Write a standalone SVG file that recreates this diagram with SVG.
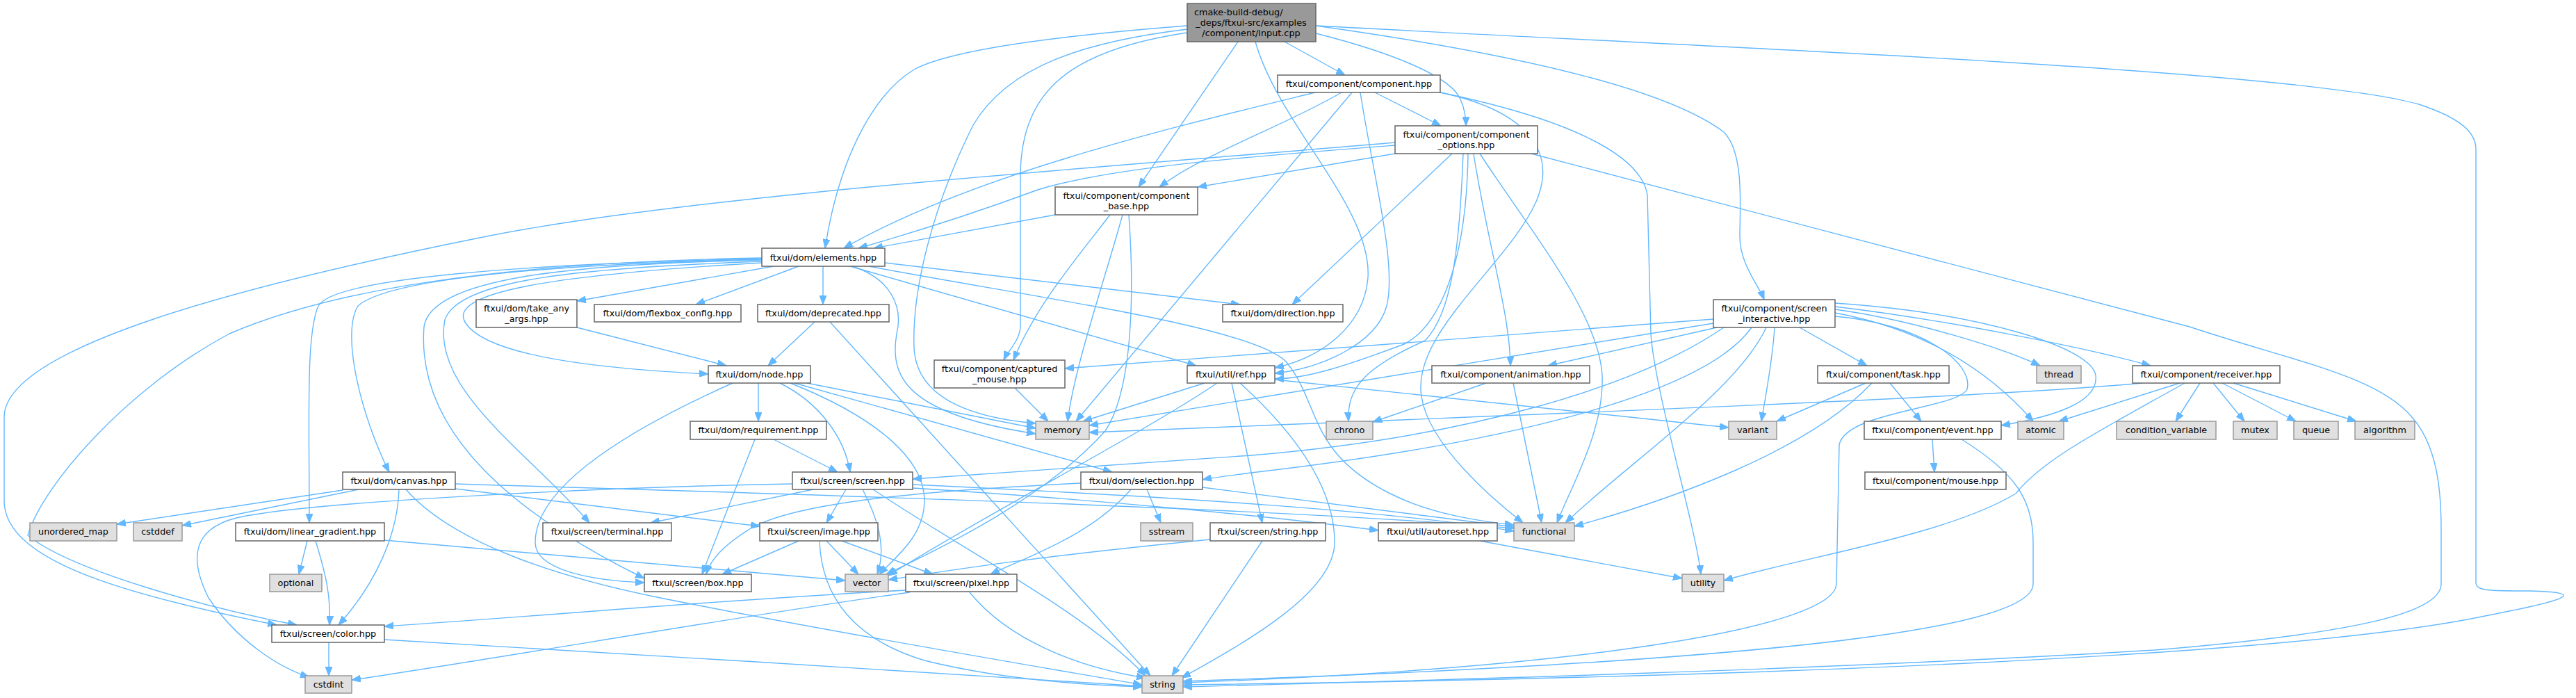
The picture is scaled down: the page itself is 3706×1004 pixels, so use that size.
<svg xmlns="http://www.w3.org/2000/svg" width="3706" height="1004" viewBox="0 0 3706 1004">
<defs>
<marker id="ah" viewBox="0 0 13 10" refX="13" refY="5" markerWidth="13" markerHeight="10" markerUnits="userSpaceOnUse" orient="auto">
<path d="M0,0 L13,5 L0,10 z" fill="#63b8ff" stroke="#63b8ff" stroke-width="1"/>
</marker>
<style>
.n rect{fill:#ffffff;stroke:#666666;stroke-width:1.5}
.g rect{fill:#e0e0e0;stroke:#999999;stroke-width:1.5}
.r rect{fill:#999999;stroke:#666666;stroke-width:1.5}
text{font-family:"DejaVu Sans","Liberation Sans",sans-serif;font-size:12.8px;fill:#000000;text-anchor:middle}
.e path{fill:none;stroke:#63b8ff;stroke-width:1.4;marker-end:url(#ah)}
</style>
</defs>
<rect x="0" y="0" width="3706" height="1004" fill="#ffffff"/>
<g id="edges" class="e">
<path d="M1708,37 C1540,50 1370,70 1315,100 C1250,140 1205,240 1187,357"/>
<path d="M1781,60 L1638,269"/>
<path d="M1708,47 C1540,72 1470,130 1468,250 L1468,470 C1467,490 1450,505 1444,518"/>
<path d="M1708,42 C1560,60 1450,95 1400,180 C1340,300 1312,420 1315,500 C1318,570 1390,600 1490,609"/>
<path d="M1848,60 L1935,108"/>
<path d="M1893,48 C2000,75 2090,110 2102,145 C2108,160 2109,170 2109,181"/>
<path d="M1893,37 C2200,80 2400,130 2480,190 C2510,220 2503,300 2503,340 C2503,380 2530,410 2538,431"/>
<path d="M1806,60 C1840,180 1975,300 1968,400 C1962,470 1900,515 1834,529"/>
<path d="M1893,37 C2500,70 3300,100 3480,150 C3540,170 3562,190 3562,215 L3562,838 C3562,850 3580,850 3640,850 C3720,852 3700,862 3580,885 C3300,945 2500,975 1702,985"/>
<path d="M1978,133 L2073,181"/>
<path d="M1930,133 C1850,180 1730,222 1668,269"/>
<path d="M1892,133 C1700,180 1400,250 1214,357"/>
<path d="M1945,133 L1548,606"/>
<path d="M1957,133 C1975,250 2010,380 1995,440 C1980,495 1900,530 1834,537"/>
<path d="M2072,133 C2200,160 2240,220 2210,290 C2170,380 2030,480 2045,570 C2055,640 2150,720 2191,752"/>
<path d="M2072,133 C2250,170 2360,220 2370,280 L2375,480 C2380,560 2440,760 2447,826"/>
<path d="M2007,209 C1800,225 1600,240 1493,273 C1420,300 1330,330 1235,357"/>
<path d="M2007,205 C1600,240 1000,280 700,340 C350,410 6,500 6,600 L6,720 C6,800 150,850 398,899"/>
<path d="M2007,221 L1723,269"/>
<path d="M2089,221 L1859,438"/>
<path d="M2105,221 C2100,350 2090,450 2050,490 C1960,530 1938,560 1940,606"/>
<path d="M2112,221 C2110,380 2070,470 2020,495 C1940,525 1880,545 1834,545"/>
<path d="M2120,221 C2140,350 2172,450 2173,526"/>
<path d="M2129,221 C2200,330 2300,450 2305,540 C2308,620 2260,700 2240,752"/>
<path d="M2203,221 L3150,470 C3300,520 3420,540 3470,600 C3505,640 3512,700 3512,760 L3512,840 C3512,880 3400,910 3100,935 C2600,965 2000,980 1702,988"/>
<path d="M1518,309 L1257,357"/>
<path d="M1597,309 C1550,370 1490,440 1458,518"/>
<path d="M1615,309 C1590,400 1545,530 1536,606"/>
<path d="M1624,309 C1632,420 1630,560 1590,620 C1500,720 1350,790 1275,826"/>
<path d="M2465,459 C2200,480 1800,510 1532,530"/>
<path d="M2465,465 L1567,612"/>
<path d="M2470,471 L2227,526"/>
<path d="M2480,471 C2350,560 2100,630 1800,655 C1600,670 1400,683 1313,689"/>
<path d="M2520,471 C2450,570 2150,640 1800,680 C1770,684 1745,687 1730,690"/>
<path d="M2541,471 C2500,560 2350,660 2252,752"/>
<path d="M2553,471 C2550,520 2540,570 2534,606"/>
<path d="M2589,471 L2686,526"/>
<path d="M2640,445 C2750,460 2880,500 2935,526"/>
<path d="M2640,441 C2800,460 3000,500 3094,526"/>
<path d="M2640,450 C2750,470 2850,520 2925,606"/>
<path d="M2640,436 C2850,450 3010,500 3015,540 C3020,580 2950,600 2879,612"/>
<path d="M2640,455 C2760,465 2840,520 2830,560 C2815,588 2655,592 2646,640 L2642,840 C2640,900 2300,960 1702,982"/>
<path d="M1113,383 L830,433"/>
<path d="M1149,383 L1001,438"/>
<path d="M1184,383 L1184,438"/>
<path d="M1273,378 L1784,438"/>
<path d="M1223,383 L1721,526"/>
<path d="M1226,383 C1280,400 1300,440 1290,480 C1280,540 1300,595 1490,624"/>
<path d="M1250,383 C1500,430 1800,470 1850,520 C1900,580 1880,650 2000,710 C2060,740 2130,750 2178,755"/>
<path d="M1096,378 C800,395 640,420 670,465 C700,510 850,530 1019,538"/>
<path d="M1096,376 C850,385 660,400 640,460 C620,560 760,650 848,752"/>
<path d="M1096,374 C820,380 620,400 610,470 C600,600 700,720 927,832"/>
<path d="M1096,373 C800,380 560,400 515,440 C490,480 520,600 560,679"/>
<path d="M1096,372 C750,380 480,400 458,440 C440,480 445,600 445,752"/>
<path d="M1096,371 C700,378 470,420 330,480 C180,560 60,700 40,770 C100,820 300,875 427,899"/>
<path d="M830,471 L1045,526"/>
<path d="M1172,463 L1105,526"/>
<path d="M1194,463 L1655,972"/>
<path d="M1091,551 L1091,606"/>
<path d="M1122,551 C1180,580 1215,630 1223,679"/>
<path d="M1137,551 C1260,600 1330,660 1330,720 C1330,770 1290,800 1265,826"/>
<path d="M1143,551 L1600,679"/>
<path d="M1161,551 L1490,616"/>
<path d="M1054,551 C900,620 770,700 770,780 C770,820 850,835 927,838"/>
<path d="M1086,632 L1010,826"/>
<path d="M1113,632 L1205,679"/>
<path d="M1460,558 L1508,606"/>
<path d="M1733,551 L1558,606"/>
<path d="M1751,551 C1650,620 1400,750 1278,828"/>
<path d="M1772,551 L1816,752"/>
<path d="M1784,551 C1860,620 1920,700 1920,780 C1920,850 1800,920 1700,975"/>
<path d="M1834,546 L2487,615"/>
<path d="M2138,551 L1975,607"/>
<path d="M2177,551 L2218,752"/>
<path d="M2684,551 L2556,606"/>
<path d="M2693,551 C2600,650 2400,720 2265,757"/>
<path d="M2719,551 L2764,606"/>
<path d="M3082,551 C2900,568 2500,585 1567,622"/>
<path d="M3136,551 L2962,606"/>
<path d="M3165,551 L3130,606"/>
<path d="M3184,551 L3229,606"/>
<path d="M3197,551 L3303,606"/>
<path d="M3213,551 L3390,606"/>
<path d="M3143,551 C3020,620 2940,660 2900,710 C2800,770 2600,800 2480,835"/>
<path d="M2780,632 L2783,679"/>
<path d="M2822,632 C2900,680 2925,720 2925,780 L2925,840 C2925,900 2600,950 1702,980"/>
<path d="M493,705 L168,754"/>
<path d="M516,704 L262,756"/>
<path d="M574,704 C572,770 540,840 487,899"/>
<path d="M584,704 C650,780 800,830 950,860 C1200,910 1500,960 1643,985"/>
<path d="M655,696 C1300,715 1900,735 2178,760"/>
<path d="M655,703 L1093,757"/>
<path d="M1140,696 C900,700 450,720 340,745 C280,760 270,800 300,860 C340,920 400,960 445,974"/>
<path d="M1170,704 L936,752"/>
<path d="M1217,704 L1189,752"/>
<path d="M1241,704 C1265,750 1275,790 1262,826"/>
<path d="M1256,704 C1400,800 1560,880 1648,972"/>
<path d="M1313,697 C1700,715 2000,735 2178,764"/>
<path d="M1313,702 C1600,720 1850,745 1983,763"/>
<path d="M1555,695 C1350,705 1150,720 1080,760 C1040,785 1022,805 1016,826"/>
<path d="M1627,704 C1570,770 1480,800 1425,826"/>
<path d="M1650,704 L1670,752"/>
<path d="M1730,701 L2178,758"/>
<path d="M442,778 L430,826"/>
<path d="M454,778 C470,830 476,860 474,899"/>
<path d="M553,777 L1216,835"/>
<path d="M1149,778 L1039,826"/>
<path d="M1179,778 C1182,860 1230,920 1330,950 C1430,975 1550,985 1643,988"/>
<path d="M1189,778 L1235,826"/>
<path d="M1211,778 L1342,826"/>
<path d="M1741,776 C1500,800 1400,815 1278,834"/>
<path d="M1816,778 L1686,972"/>
<path d="M2129,778 L2420,832"/>
<path d="M1303,849 C1000,865 800,885 553,901"/>
<path d="M1309,852 C1100,880 700,950 506,978"/>
<path d="M1395,852 C1450,920 1550,960 1648,975"/>
<path d="M473,924 L473,972"/>
<path d="M553,920 C900,940 1300,965 1643,987"/>
</g>
<g id="root" class="r"><rect x="1708" y="5" width="185" height="55"/><text x="1718" y="22" style="text-anchor:start">cmake-build-debug/</text><text x="1800" y="37">_deps/ftxui-src/examples</text><text x="1800" y="52">/component/input.cpp</text></g>
<g id="component" class="n"><rect x="1838" y="108" width="234" height="25"/><text x="1955" y="125">ftxui/component/component.hpp</text></g>
<g id="component_options" class="n"><rect x="2007" y="181" width="205" height="40"/><text x="2109.5" y="197.5">ftxui/component/component</text><text x="2109.5" y="212.5">_options.hpp</text></g>
<g id="component_base" class="n"><rect x="1518" y="269" width="205" height="40"/><text x="1620.5" y="285.5">ftxui/component/component</text><text x="1620.5" y="300.5">_base.hpp</text></g>
<g id="screen_interactive" class="n"><rect x="2465" y="431" width="175" height="40"/><text x="2552.5" y="447.5">ftxui/component/screen</text><text x="2552.5" y="462.5">_interactive.hpp</text></g>
<g id="elements" class="n"><rect x="1096" y="357" width="177" height="26"/><text x="1184.5" y="374.5">ftxui/dom/elements.hpp</text></g>
<g id="take_any_args" class="n"><rect x="685" y="431" width="145" height="40"/><text x="757.5" y="447.5">ftxui/dom/take_any</text><text x="757.5" y="462.5">_args.hpp</text></g>
<g id="flexbox_config" class="n"><rect x="855" y="438" width="211" height="25"/><text x="960.5" y="455">ftxui/dom/flexbox_config.hpp</text></g>
<g id="deprecated" class="n"><rect x="1090" y="438" width="189" height="25"/><text x="1184.5" y="455">ftxui/dom/deprecated.hpp</text></g>
<g id="direction" class="n"><rect x="1759" y="438" width="173" height="25"/><text x="1845.5" y="455">ftxui/dom/direction.hpp</text></g>
<g id="node" class="n"><rect x="1019" y="526" width="147" height="25"/><text x="1092.5" y="543">ftxui/dom/node.hpp</text></g>
<g id="captured_mouse" class="n"><rect x="1344" y="518" width="188" height="40"/><text x="1438" y="534.5">ftxui/component/captured</text><text x="1438" y="549.5">_mouse.hpp</text></g>
<g id="ref" class="n"><rect x="1708" y="526" width="126" height="25"/><text x="1771" y="543">ftxui/util/ref.hpp</text></g>
<g id="animation" class="n"><rect x="2060" y="526" width="227" height="25"/><text x="2173.5" y="543">ftxui/component/animation.hpp</text></g>
<g id="task" class="n"><rect x="2615" y="526" width="189" height="25"/><text x="2709.5" y="543">ftxui/component/task.hpp</text></g>
<g id="thread" class="g"><rect x="2930" y="526" width="64" height="25"/><text x="2962" y="543">thread</text></g>
<g id="receiver" class="n"><rect x="3068" y="526" width="212" height="25"/><text x="3174" y="543">ftxui/component/receiver.hpp</text></g>
<g id="memory" class="g"><rect x="1490" y="606" width="77" height="26"/><text x="1528.5" y="623">memory</text></g>
<g id="requirement" class="n"><rect x="993" y="606" width="196" height="26"/><text x="1091" y="623">ftxui/dom/requirement.hpp</text></g>
<g id="chrono" class="g"><rect x="1908" y="606" width="67" height="26"/><text x="1941.5" y="623">chrono</text></g>
<g id="variant" class="g"><rect x="2487" y="606" width="69" height="26"/><text x="2521.5" y="623">variant</text></g>
<g id="event" class="n"><rect x="2682" y="606" width="197" height="26"/><text x="2780.5" y="623">ftxui/component/event.hpp</text></g>
<g id="atomic" class="g"><rect x="2903" y="606" width="66" height="26"/><text x="2936" y="623">atomic</text></g>
<g id="condition_variable" class="g"><rect x="3045" y="606" width="143" height="26"/><text x="3116.5" y="623">condition_variable</text></g>
<g id="mutex" class="g"><rect x="3213" y="606" width="63" height="26"/><text x="3244.5" y="623">mutex</text></g>
<g id="queue" class="g"><rect x="3300" y="606" width="64" height="26"/><text x="3332" y="623">queue</text></g>
<g id="algorithm" class="g"><rect x="3388" y="606" width="86" height="26"/><text x="3431" y="623">algorithm</text></g>
<g id="canvas" class="n"><rect x="493" y="679" width="162" height="25"/><text x="574" y="696">ftxui/dom/canvas.hpp</text></g>
<g id="screen" class="n"><rect x="1140" y="679" width="173" height="25"/><text x="1226.5" y="696">ftxui/screen/screen.hpp</text></g>
<g id="selection" class="n"><rect x="1555" y="679" width="175" height="25"/><text x="1642.5" y="696">ftxui/dom/selection.hpp</text></g>
<g id="mouse" class="n"><rect x="2683" y="679" width="203" height="25"/><text x="2784.5" y="696">ftxui/component/mouse.hpp</text></g>
<g id="unordered_map" class="g"><rect x="43" y="752" width="125" height="26"/><text x="105.5" y="769">unordered_map</text></g>
<g id="cstddef" class="g"><rect x="192" y="752" width="70" height="26"/><text x="227" y="769">cstddef</text></g>
<g id="linear_gradient" class="n"><rect x="339" y="752" width="214" height="26"/><text x="446" y="769">ftxui/dom/linear_gradient.hpp</text></g>
<g id="terminal" class="n"><rect x="781" y="752" width="185" height="26"/><text x="873.5" y="769">ftxui/screen/terminal.hpp</text></g>
<g id="image" class="n"><rect x="1093" y="752" width="170" height="26"/><text x="1178" y="769">ftxui/screen/image.hpp</text></g>
<g id="sstream" class="g"><rect x="1641" y="752" width="75" height="26"/><text x="1678.5" y="769">sstream</text></g>
<g id="string_hpp" class="n"><rect x="1741" y="752" width="166" height="26"/><text x="1824" y="769">ftxui/screen/string.hpp</text></g>
<g id="autoreset" class="n"><rect x="1983" y="752" width="171" height="26"/><text x="2068.5" y="769">ftxui/util/autoreset.hpp</text></g>
<g id="functional" class="g"><rect x="2178" y="752" width="87" height="26"/><text x="2221.5" y="769">functional</text></g>
<g id="optional" class="g"><rect x="388" y="826" width="75" height="25"/><text x="425.5" y="843">optional</text></g>
<g id="box" class="n"><rect x="927" y="826" width="154" height="25"/><text x="1004" y="843">ftxui/screen/box.hpp</text></g>
<g id="vector" class="g"><rect x="1216" y="826" width="62" height="25"/><text x="1247" y="843">vector</text></g>
<g id="pixel" class="n"><rect x="1303" y="826" width="160" height="25"/><text x="1383" y="843">ftxui/screen/pixel.hpp</text></g>
<g id="utility" class="g"><rect x="2420" y="826" width="60" height="25"/><text x="2450" y="843">utility</text></g>
<g id="color" class="n"><rect x="391" y="899" width="162" height="25"/><text x="472" y="916">ftxui/screen/color.hpp</text></g>
<g id="cstdint" class="g"><rect x="439" y="972" width="67" height="25"/><text x="472.5" y="989">cstdint</text></g>
<g id="string" class="g"><rect x="1643" y="972" width="59" height="25"/><text x="1672.5" y="989">string</text></g>
</svg>
